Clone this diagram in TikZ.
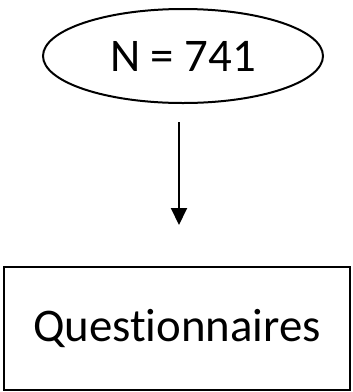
\documentclass[tikz,border=0pt]{standalone}
\usepackage{fontspec}
\setmainfont{Carlito}[Ligatures={NoCommon,NoContextual}]
\usetikzlibrary{shapes.geometric,arrows.meta}
\begin{document}
\begin{tikzpicture}[x=1pt,y=-1pt,
  lbl/.style={font=\fontsize{46.8pt}{50pt}\selectfont, text=black},
  oval/.style={draw=black, line width=2pt, ellipse, minimum width=280pt, minimum height=94pt, inner sep=0pt},
  boxnode/.style={draw=black, line width=2.2pt, rectangle, minimum width=346pt, minimum height=123pt, inner sep=0pt},
  link/.style={draw=black, line width=2pt, -{Triangle[width=16pt,length=17pt]}}]
\useasboundingbox (0,0) rectangle (353,392);
\node[oval, lbl] (n) at (183,56) {N = 741};
\node[boxnode, lbl] (q) at (177,328.5) {Questionnaires};
\coordinate (a1) at (179,122);
\coordinate (a2) at (179,225);
\draw[link] (a1) -- (a2);
\end{tikzpicture}
\end{document}
